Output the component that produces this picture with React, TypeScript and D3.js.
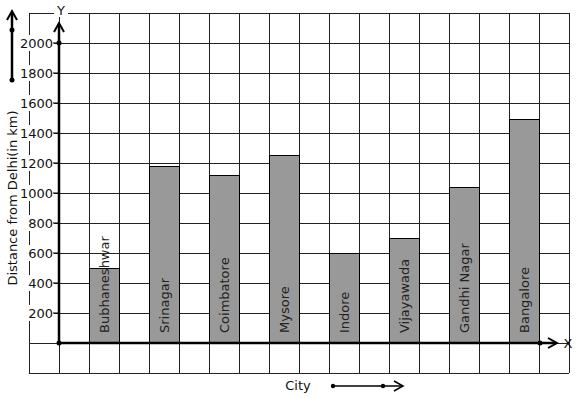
import React from "react";
import * as d3 from "d3";

const cities = ["Bubhaneshwar", "Srinagar", "Coimbatore", "Mysore", "Indore", "Vijayawada", "Gandhi Nagar", "Bangalore"];
const distances = [500, 1180, 1120, 1250, 600, 700, 1040, 1490];
const yTicks = [200, 400, 600, 800, 1000, 1200, 1400, 1600, 1800, 2000];

const W = 577, H = 399;
const FONT = "DejaVu Sans, sans-serif";

export default function App() {
  const y = d3.scaleLinear().domain([0, 2000]).range([343, 43]);
  const gx = d3.scaleLinear().domain([0, 18]).range([29, 569]);
  const x = d3.scaleBand<string>().domain(cities).range([89, 539]).paddingInner(0.5).paddingOuter(0);
  const gridCols = d3.range(0, 19);
  const gridRows = d3.range(-200, 2201, 200);
  const axisX = 59;
  const y0 = y(0);
  const stroke = "#222";

  const arrowHeadUp = (cx: number, cy: number) => `M${cx - 5},${cy + 9} L${cx},${cy} L${cx + 5},${cy + 9}`;
  const arrowHeadRight = (cx: number, cy: number) => `M${cx - 9},${cy - 5} L${cx},${cy} L${cx - 9},${cy + 5}`;

  return (
    <svg width={W} height={H} style={{ position: "absolute", left: 0, top: 0, background: "#fff" }}>
      <rect x={0} y={0} width={W} height={H} fill="#fff" />
      {/* grid */}
      {gridCols.map((c) => (
        <line key={"c" + c} x1={gx(c)} x2={gx(c)} y1={y(2200)} y2={y(-200)} stroke={stroke} strokeWidth={1} shapeRendering="crispEdges" />
      ))}
      {gridRows.map((r) => (
        <line key={"r" + r} x1={gx(0)} x2={gx(18)} y1={y(r)} y2={y(r)} stroke={stroke} strokeWidth={1} shapeRendering="crispEdges" />
      ))}
      {/* bars */}
      {cities.map((c, i) => (
        <rect key={c} x={x(c)} y={y(distances[i])} width={x.bandwidth()} height={y0 - y(distances[i])}
          fill="#999" stroke="#000" strokeWidth={1} shapeRendering="crispEdges" />
      ))}
      {cities.map((c) => {
        const cx = (x(c) as number) + x.bandwidth() / 2;
        return (
          <text key={"t" + c} transform={`translate(${cx + 5},${333}) rotate(-90)`} fontFamily={FONT} fontSize={13} fill="#222">{c}</text>
        );
      })}
      {/* y tick labels */}
      {yTicks.map((t) => (
        <g key={"yt" + t}>
          <rect x={21} y={y(t) - 8} width={33} height={16} fill="#fff" />
          <line x1={53} x2={axisX} y1={y(t)} y2={y(t)} stroke="#000" strokeWidth={1} />
          <text x={53} y={y(t) + 5} textAnchor="end" fontFamily={FONT} fontSize={13} fill="#111">{t}</text>
        </g>
      ))}
      {/* axes */}
      <line x1={axisX} x2={axisX} y1={y0} y2={24} stroke="#000" strokeWidth={2.5} />
      <path d={arrowHeadUp(axisX, 23)} fill="none" stroke="#000" strokeWidth={2} />
      <circle cx={axisX} cy={y(2000)} r={2.5} fill="#000" />
      <line x1={axisX} x2={556} y1={y0} y2={y0} stroke="#000" strokeWidth={2.5} />
      <path d={arrowHeadRight(557, y0)} fill="none" stroke="#000" strokeWidth={2} />
      <circle cx={axisX} cy={y0} r={2.5} fill="#000" />
      <circle cx={540} cy={y0} r={2.5} fill="#000" />
      <rect x={54} y={2} width={14} height={15} fill="#fff" />
      <text x={61} y={15} textAnchor="middle" fontFamily={FONT} fontSize={13} fill="#111">Y</text>
      <text x={568} y={y0 + 5} textAnchor="middle" fontFamily={FONT} fontSize={13} fill="#111">X</text>
      {/* y title & decoration arrow */}
      <text transform={`translate(17,${198}) rotate(-90)`} textAnchor="middle" fontFamily={FONT} fontSize={13} fill="#111">Distance from Delhi(in km)</text>
      <line x1={12} x2={12} y1={80} y2={12} stroke="#000" strokeWidth={2.5} />
      <path d={arrowHeadUp(12, 11)} fill="none" stroke="#000" strokeWidth={2} />
      <circle cx={12} cy={30} r={2.5} fill="#000" />
      <circle cx={12} cy={80} r={2.5} fill="#000" />
      {/* x title & decoration arrow */}
      <text x={298} y={390} textAnchor="middle" fontFamily={FONT} fontSize={13} fill="#111">City</text>
      <line x1={333} x2={402} y1={386} y2={386} stroke="#000" strokeWidth={1.5} />
      <path d={arrowHeadRight(403, 386)} fill="none" stroke="#000" strokeWidth={1.5} />
      <circle cx={333} cy={386} r={2.2} fill="#000" />
      <circle cx={383} cy={386} r={2.2} fill="#000" />
    </svg>
  );
}
